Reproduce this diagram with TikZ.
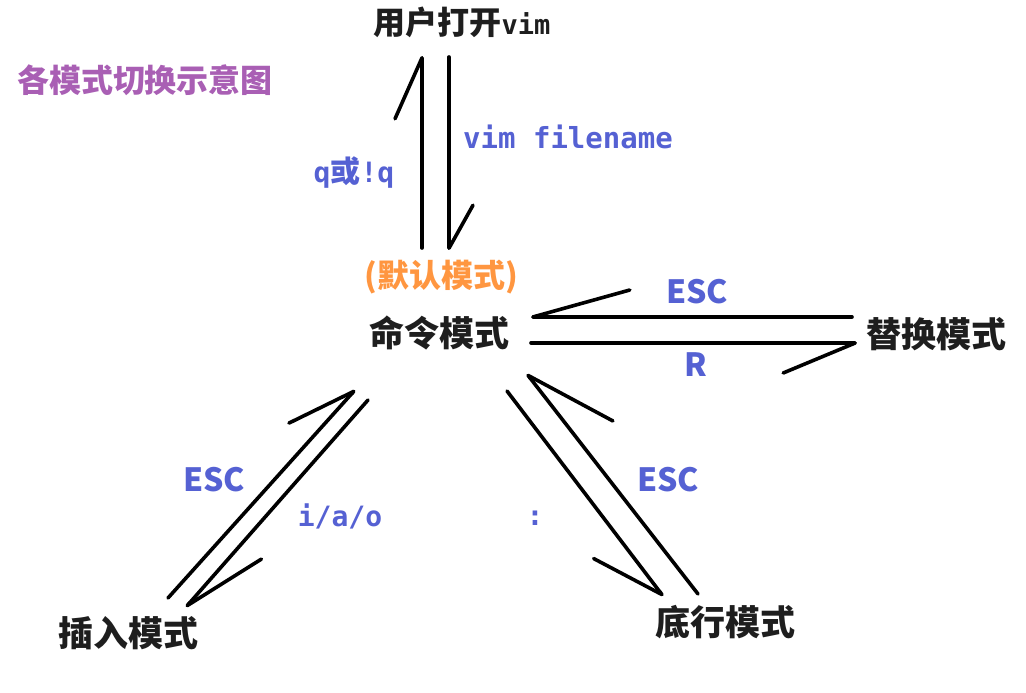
\documentclass[tikz,border=0pt]{standalone}
\usepackage{fontspec}
\usepackage{xcolor}
\usetikzlibrary{arrows.meta}
\newfontfamily\cjk{Noto Sans CJK SC}
\newfontfamily\mono{DejaVu Sans Mono}
\definecolor{keyblue}{HTML}{5561D3}
\definecolor{modeblack}{HTML}{1E1E1E}
\definecolor{titlepurple}{HTML}{A95FB4}
\definecolor{defaultorange}{HTML}{FF9640}

\begin{document}
\begin{tikzpicture}[x=1pt, y=-1pt,
    label/.style={font=\cjk\bfseries\fontsize{32}{36}\selectfont, text=modeblack, inner sep=0pt},
    mode/.style={font=\cjk\bfseries\fontsize{35}{40}\selectfont, text=modeblack, inner sep=0pt},
    key/.style={font=\cjk\bfseries\fontsize{32}{36}\selectfont, text=keyblue, inner sep=0pt},
    cmdkey/.style={font=\mono\bfseries\fontsize{28}{32}\selectfont, text=keyblue, inner sep=0pt},
    link/.style={draw=black, line width=3.6pt, line cap=round}
]
    \useasboundingbox (0,0) rectangle (1026,693);

    % Title
    \node[label, text=titlepurple] (title) at (145,80) {各模式切换示意图};

    % Modes
    \node[label] (open) at (462,22) {用户打开{\mono\fontsize{27}{30}\selectfont vim}};
    \node[mode] (cmd) at (439,333) {命令模式};
    \node[label, text=defaultorange] (dflt) at (441,277) {(默认模式)};
    \node[mode] (replace) at (936,334) {替换模式};
    \node[mode] (insert) at (128,633) {插入模式};
    \node[mode] (bottom) at (725,622) {底行模式};

    % Transitions
    \draw[link, -{Straight Barb[left, round, length=61pt, width=54pt]}] ([shift={(-17,-85)}]cmd.center) -- ([shift={(-40,34)}]open.center);
    \draw[link, -{Straight Barb[left, round, length=43pt, width=48pt]}] ([shift={(-13,35)}]open.center) -- ([shift={(10,-83)}]cmd.center);
    \draw[link, -{Straight Barb[right, round, length=97pt, width=54pt]}] ([shift={(-84,-17)}]replace.center) -- ([shift={(92,-16)}]cmd.center);
    \draw[link, -{Straight Barb[right, round, length=72pt, width=60pt]}] ([shift={(92,10)}]cmd.center) -- ([shift={(-79,9)}]replace.center);
    \draw[link, -{Straight Barb[left, round, length=67pt, width=54pt]}] ([shift={(40,-35)}]insert.center) -- ([shift={(-84,57)}]cmd.center);
    \draw[link, -{Straight Barb[left, round, length=84pt, width=50pt]}] ([shift={(-71,67)}]cmd.center) -- ([shift={(58,-26)}]insert.center);
    \draw[link, -{Straight Barb[right, round, length=88pt, width=78pt]}] ([shift={(-27,-28)}]bottom.center) -- ([shift={(88,41)}]cmd.center);
    \draw[link, -{Straight Barb[right, round, length=70pt, width=65pt]}] ([shift={(68,58)}]cmd.center) -- ([shift={(-62,-26)}]bottom.center);

    % Keys
    \node[cmdkey] (quit) at (354,173) {q{\cjk\fontsize{30}{34}\selectfont 或}!q};
    \node[cmdkey, font=\mono\bfseries\fontsize{29}{33}\selectfont] (vimfile) at (568,137) {vim filename};
    \node[key] (escR) at (697,292) {ESC};
    \node[key] (keyR) at (696,365) {R};
    \node[key] (escI) at (214,480) {ESC};
    \node[cmdkey] (iao) at (340,516) {i/a/o};
    \node[cmdkey] (colon) at (535,518) {:};
    \node[key] (escB) at (668,480) {ESC};
\end{tikzpicture}
\end{document}
